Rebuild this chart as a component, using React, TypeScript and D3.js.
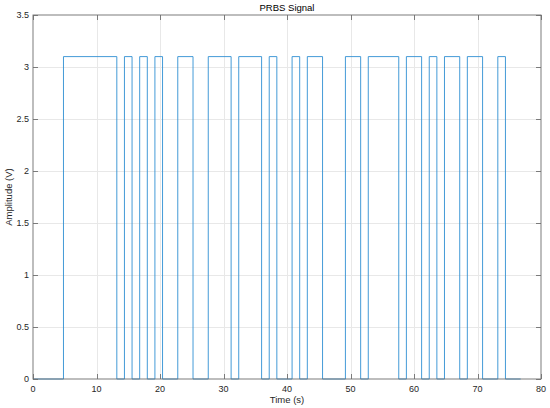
import React, { useEffect, useRef } from "react";
import * as d3 from "d3";

// step series: level holds from each time until the next one
const stepTimes = [
  0, 4.8, 13.2, 14.4, 15.6, 16.8, 18.0, 19.2, 20.4, 22.8, 25.2, 27.6, 31.2,
  32.4, 36.0, 37.2, 38.4, 40.8, 42.0, 43.2, 45.6, 49.2, 51.6, 52.8, 57.6,
  58.8, 61.2, 62.4, 63.6, 64.8, 67.2, 68.4, 70.8, 73.2, 74.4, 76.8
];
const stepLevels = [
  0, 3.1, 0, 3.1, 0, 3.1, 0, 3.1, 0, 3.1, 0, 3.1, 0,
  3.1, 0, 3.1, 0, 3.1, 0, 3.1, 0, 3.1, 0, 3.1, 0,
  3.1, 0, 3.1, 0, 3.1, 0, 3.1, 0, 3.1, 0, 0
];
const xTicks = [0, 10, 20, 30, 40, 50, 60, 70, 80];
const yTicks = [0, 0.5, 1, 1.5, 2, 2.5, 3, 3.5];

const W = 550;
const H = 408;
const margin = { left: 33, right: 9, top: 15, bottom: 29 };

export default function App() {
  const svgRef = useRef<SVGSVGElement | null>(null);

  useEffect(() => {
    const svg = d3.select(svgRef.current);
    svg.selectAll("*").remove();

    const x = d3
      .scaleLinear()
      .domain([0, 80])
      .range([margin.left, W - margin.right]);
    const y = d3
      .scaleLinear()
      .domain([0, 3.5])
      .range([H - margin.bottom, margin.top]);

    const font = "Liberation Sans, Arial, Helvetica, sans-serif";
    const axisColor = "#262626";
    const boxColor = "#6e6e6e";

    svg.append("rect").attr("width", W).attr("height", H).attr("fill", "#fff");

    // grid
    const grid = svg.append("g").attr("stroke", "#e8e8e8").attr("stroke-width", 1);
    xTicks.slice(1, -1).forEach(t => {
      grid
        .append("line")
        .attr("x1", Math.round(x(t)) + 0.5)
        .attr("x2", Math.round(x(t)) + 0.5)
        .attr("y1", y(3.5))
        .attr("y2", y(0));
    });
    yTicks.slice(1, -1).forEach(t => {
      grid
        .append("line")
        .attr("x1", x(0))
        .attr("x2", x(80))
        .attr("y1", Math.round(y(t)) + 0.5)
        .attr("y2", Math.round(y(t)) + 0.5);
    });

    const pts: [number, number][] = stepTimes.map((t, i) => [t, stepLevels[i]]);
    const line = d3
      .line<[number, number]>()
      .x(d => x(d[0]))
      .y(d => y(d[1]))
      .curve(d3.curveStepAfter);

    svg
      .append("path")
      .datum(pts)
      .attr("d", line)
      .attr("fill", "none")
      .attr("stroke", "#2f8fd3")
      .attr("stroke-width", 0.9);

    // box
    svg
      .append("rect")
      .attr("x", x(0))
      .attr("y", y(3.5))
      .attr("width", x(80) - x(0))
      .attr("height", y(0) - y(3.5))
      .attr("fill", "none")
      .attr("stroke", boxColor)
      .attr("stroke-width", 0.9);

    const tickLen = 5;
    const ticks = svg.append("g").attr("stroke", boxColor).attr("stroke-width", 0.9);
    xTicks.forEach(t => {
      const px = Math.round(x(t)) + 0.5;
      ticks.append("line").attr("x1", px).attr("x2", px).attr("y1", y(0)).attr("y2", y(0) - tickLen);
      ticks.append("line").attr("x1", px).attr("x2", px).attr("y1", y(3.5)).attr("y2", y(3.5) + tickLen);
    });
    yTicks.forEach(t => {
      const py = Math.round(y(t)) + 0.5;
      ticks.append("line").attr("x1", x(0)).attr("x2", x(0) + tickLen).attr("y1", py).attr("y2", py);
      ticks.append("line").attr("x1", x(80)).attr("x2", x(80) - tickLen).attr("y1", py).attr("y2", py);
    });

    svg
      .append("g")
      .selectAll("text")
      .data(xTicks)
      .join("text")
      .attr("x", d => x(d))
      .attr("y", y(0) + 13)
      .attr("text-anchor", "middle")
      .attr("font-family", font)
      .attr("font-size", 9)
      .attr("fill", axisColor)
      .text(d => String(d));

    svg
      .append("g")
      .selectAll("text")
      .data(yTicks)
      .join("text")
      .attr("x", x(0) - 4)
      .attr("y", d => y(d) + 3)
      .attr("text-anchor", "end")
      .attr("font-family", font)
      .attr("font-size", 9)
      .attr("fill", axisColor)
      .text(d => String(d));

    svg
      .append("text")
      .attr("x", (x(0) + x(80)) / 2)
      .attr("y", 11)
      .attr("text-anchor", "middle")
      .attr("font-family", font)
      .attr("font-size", 9.5)
      .attr("fill", "#000")
      .text("PRBS Signal");

    svg
      .append("text")
      .attr("x", (x(0) + x(80)) / 2)
      .attr("y", 403)
      .attr("text-anchor", "middle")
      .attr("font-family", font)
      .attr("font-size", 9.5)
      .attr("fill", axisColor)
      .text("Time (s)");

    svg
      .append("text")
      .attr("transform", `translate(12,${(y(0) + y(3.5)) / 2}) rotate(-90)`)
      .attr("text-anchor", "middle")
      .attr("font-family", font)
      .attr("font-size", 9.5)
      .attr("fill", axisColor)
      .text("Amplitude (V)");
  }, []);

  return (
    <svg
      ref={svgRef}
      width={W}
      height={H}
      style={{ position: "absolute", left: 0, top: 0, display: "block" }}
    />
  );
}
